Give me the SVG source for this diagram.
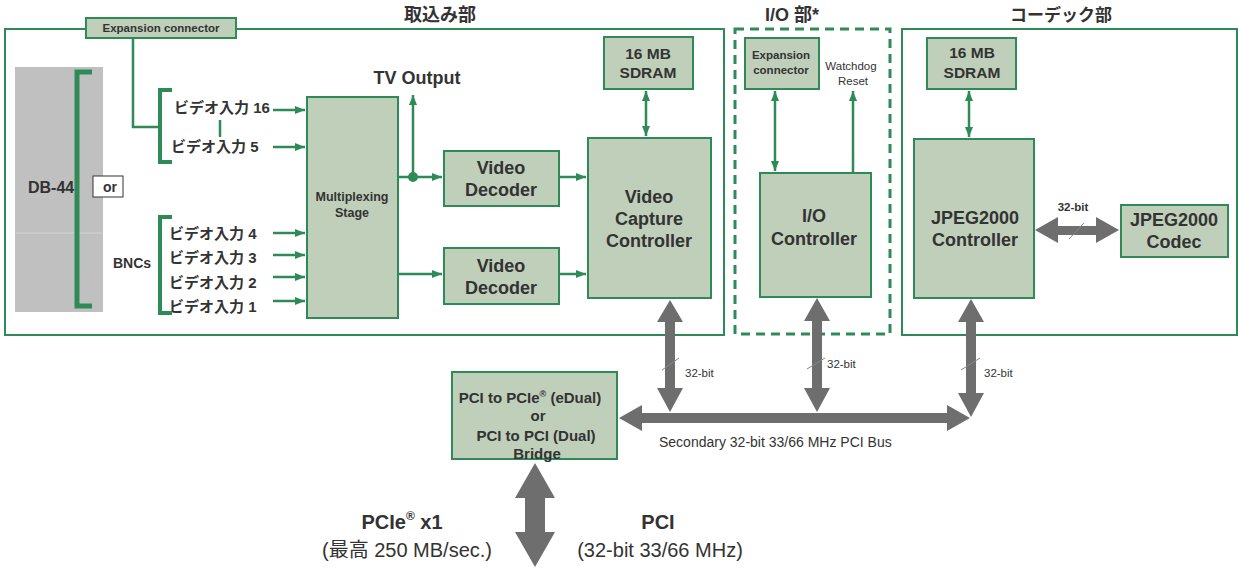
<svg xmlns="http://www.w3.org/2000/svg" width="1238" height="567" viewBox="0 0 1238 567">
<defs>
<style>
text{font-family:"Liberation Sans","Noto Sans CJK JP",sans-serif;fill:#333;}
.b{font-weight:bold;}
.t18{font-size:18px;}
.mid{text-anchor:middle;}
.box{fill:#bfcfb9;stroke:#2e8b57;stroke-width:2;}
.sec{fill:#fff;stroke:#2e8b57;stroke-width:2;}
.g{stroke:#2e8b57;stroke-width:2.5;fill:none;}
.gray{fill:#6e6e6e;}
.sl{stroke:#888;stroke-width:1;}
.br{font-size:15px;font-weight:bold;text-anchor:middle;}
</style>
<marker id="ah" viewBox="0 0 10 8" refX="10" refY="4" markerWidth="10" markerHeight="8" markerUnits="userSpaceOnUse" orient="auto-start-reverse">
<path d="M0,0 L10,4 L0,8 Z" fill="#2e8b57"/>
</marker>
</defs>
<rect width="1238" height="567" fill="#fff"/>

<!-- sections -->
<g id="sec-capture">
<rect class="sec" x="5" y="29" width="719" height="306"/>
<text class="b mid t18" x="440" y="21">取込み部</text>
</g>
<g id="sec-io">
<rect x="735" y="29" width="155" height="305" fill="#fff" stroke="#2e8b57" stroke-width="3" stroke-dasharray="9,6"/>
<text class="b mid t18" x="792" y="21">I/O 部*</text>
</g>
<g id="sec-codec">
<rect class="sec" x="902" y="29" width="335" height="306"/>
<text class="b mid" font-size="17" x="1061" y="21">コーデック部</text>
</g>

<!-- DB-44 connector -->
<g id="db44">
<rect x="15" y="67" width="88" height="245" fill="#c0c0c0"/>
<line x1="16" y1="233" x2="102" y2="233" stroke="#d4d4d4" stroke-width="1"/>
<path d="M92,72 H77 V306 H92" fill="none" stroke="#2e8b57" stroke-width="5"/>
<text class="b" font-size="16" x="28" y="193">DB-44</text>
<rect x="93" y="176" width="30" height="21" fill="#fff" stroke="#333" stroke-width="1"/>
<text class="b" font-size="14" x="103" y="192">or</text>
</g>

<g id="exp-top">
<rect class="box" x="86" y="18" width="150" height="20"/>
<text class="b mid" font-size="11.5" x="161" y="32">Expansion connector</text>
</g>

<g id="inputs">
<text class="b" font-size="15" x="174" y="113">ビデオ入力 16</text>
<text class="b" font-size="15" x="171" y="152">ビデオ入力 5</text>
<text class="b" font-size="15" x="169" y="239">ビデオ入力 4</text>
<text class="b" font-size="15" x="169" y="263">ビデオ入力 3</text>
<text class="b" font-size="15" x="169" y="288">ビデオ入力 2</text>
<text class="b" font-size="15" x="169" y="312">ビデオ入力 1</text>
<text class="b" font-size="14" x="113" y="268">BNCs</text>
</g>

<g id="mux">
<rect class="box" x="307" y="97" width="91" height="221" stroke-width="2.5"/>
<text class="b mid" font-size="12.5" x="352" y="201">Multiplexing</text>
<text class="b mid" font-size="12.5" x="352" y="217">Stage</text>
</g>
<g id="tvout"><text class="b mid t18" x="417" y="84">TV Output</text></g>

<g id="dec1">
<rect class="box" x="444" y="151" width="115" height="55"/>
<text class="b mid t18" x="501" y="174">Video</text>
<text class="b mid t18" x="501" y="196">Decoder</text>
</g>
<g id="dec2">
<rect class="box" x="444" y="248" width="115" height="56"/>
<text class="b mid t18" x="501" y="272">Video</text>
<text class="b mid t18" x="501" y="294">Decoder</text>
</g>
<g id="vcc">
<rect class="box" x="588" y="138" width="123" height="160"/>
<text class="b mid t18" x="649" y="203">Video</text>
<text class="b mid t18" x="649" y="225">Capture</text>
<text class="b mid t18" x="649" y="247">Controller</text>
</g>
<g id="sdram1">
<rect class="box" x="604" y="37" width="89" height="52"/>
<text class="b mid" font-size="15.5" x="648" y="59">16 MB</text>
<text class="b mid" font-size="15.5" x="648" y="78">SDRAM</text>
</g>

<g id="exp-io">
<rect class="box" x="745" y="38" width="74" height="51"/>
<text class="b mid" font-size="11.5" x="781" y="59">Expansion</text>
<text class="b mid" font-size="11.5" x="781" y="74">connector</text>
</g>
<g id="watchdog">
<text class="mid" font-size="11.5" x="851" y="70">Watchdog</text>
<text class="mid" font-size="11.5" x="853" y="85">Reset</text>
</g>
<g id="ioc">
<rect class="box" x="760" y="173" width="111" height="124"/>
<text class="b mid t18" x="814" y="222">I/O</text>
<text class="b mid t18" x="814" y="245">Controller</text>
</g>

<g id="sdram2">
<rect class="box" x="927" y="38" width="89" height="51"/>
<text class="b mid" font-size="15.5" x="972" y="58">16 MB</text>
<text class="b mid" font-size="15.5" x="972" y="78">SDRAM</text>
</g>
<g id="jpegc">
<rect class="box" x="914" y="139" width="120" height="159"/>
<text class="b mid t18" x="975" y="224">JPEG2000</text>
<text class="b mid t18" x="975" y="246">Controller</text>
</g>
<g id="codec">
<rect class="box" x="1121" y="205" width="107" height="52"/>
<text class="b mid t18" x="1174" y="226">JPEG2000</text>
<text class="b mid t18" x="1174" y="248">Codec</text>
</g>

<g id="bridge">
<rect class="box" x="452" y="372" width="165" height="87"/>
<text class="br" x="530" y="403">PCI to PCIe<tspan font-size="9" dy="-6">®</tspan><tspan dy="6"> (eDual)</tspan></text>
<text class="br" x="538" y="421">or</text>
<text class="br" x="536" y="441">PCI to PCI (Dual)</text>
<text class="br" x="537" y="459">Bridge</text>
</g>

<g id="host-labels">
<text class="b mid" font-size="20" x="402" y="529">PCIe<tspan font-size="12" dy="-9">®</tspan><tspan dy="9"> x1</tspan></text>
<text class="mid" font-size="20" x="407" y="557">(最高 250 MB/sec.)</text>
<text class="b mid" font-size="20" x="658" y="529">PCI</text>
<text class="mid" font-size="20" x="660" y="557">(32-bit 33/66 MHz)</text>
<text font-size="14" x="659" y="447">Secondary 32-bit 33/66 MHz PCI Bus</text>
</g>

<g id="connectors">
<path class="g" d="M133,38 V127 H160"/>
<path d="M172,90 H160 V162 H172" fill="none" stroke="#2e8b57" stroke-width="4"/>
<path d="M172,217 H160 V313 H172" fill="none" stroke="#2e8b57" stroke-width="4"/>
<line class="g" x1="220" y1="120" x2="220" y2="137" stroke-width="2"/>
<line class="g" x1="273" y1="110" x2="305" y2="110" marker-end="url(#ah)"/>
<line class="g" x1="273" y1="147" x2="305" y2="147" marker-end="url(#ah)"/>
<line class="g" x1="273" y1="233" x2="305" y2="233" marker-end="url(#ah)"/>
<line class="g" x1="273" y1="255" x2="305" y2="255" marker-end="url(#ah)"/>
<line class="g" x1="273" y1="277" x2="305" y2="277" marker-end="url(#ah)"/>
<line class="g" x1="273" y1="301" x2="305" y2="301" marker-end="url(#ah)"/>
<line class="g" x1="398" y1="177" x2="442" y2="177" marker-end="url(#ah)"/>
<line class="g" x1="413" y1="177" x2="413" y2="95" marker-end="url(#ah)"/>
<circle cx="413" cy="177" r="5" fill="#2e8b57"/>
<line class="g" x1="398" y1="274" x2="442" y2="274" marker-end="url(#ah)"/>
<line class="g" x1="560" y1="177" x2="586" y2="177" marker-end="url(#ah)"/>
<line class="g" x1="560" y1="274" x2="586" y2="274" marker-end="url(#ah)"/>
<line class="g" x1="646" y1="91" x2="646" y2="136" marker-start="url(#ah)" marker-end="url(#ah)"/>
<line class="g" x1="775" y1="91" x2="775" y2="171" marker-start="url(#ah)" marker-end="url(#ah)"/>
<line class="g" x1="853" y1="173" x2="853" y2="91" marker-end="url(#ah)"/>
<line class="g" x1="969" y1="91" x2="969" y2="137" marker-start="url(#ah)" marker-end="url(#ah)"/>
<polygon class="gray" points="670,300 683,322 675,322 675,388 683,388 670,412 657,388 665,388 665,322 657,322"/>
<polygon class="gray" points="817,298 830,321 822,321 822,388 830,388 817,412 804,388 812,388 812,321 804,321"/>
<polygon class="gray" points="971,299 984,322 976,322 976,393 984,393 971,417 958,393 966,393 966,322 958,322"/>
<polygon class="gray" points="619,418 642,405 642,413 947,413 947,405 970,418 947,431 947,423 642,423 642,431"/>
<polygon class="gray" points="535,463 555,498 545,498 545,532 555,532 535,567 515,532 525,532 525,498 515,498"/>
<polygon class="gray" points="1035,230 1058,217 1058,226 1096,226 1096,217 1119,230 1096,243 1096,235 1058,235 1058,243"/>
<line class="sl" x1="662" y1="370" x2="679" y2="358"/>
<line class="sl" x1="807" y1="369" x2="825" y2="358"/>
<line class="sl" x1="961" y1="370" x2="980" y2="358"/>
<line class="sl" x1="1069" y1="239" x2="1084" y2="223"/>
<text font-size="11.5" x="685" y="377">32-bit</text>
<text font-size="11.5" x="827" y="368">32-bit</text>
<text font-size="11.5" x="984" y="377">32-bit</text>
<text class="b mid" font-size="11.5" x="1073" y="211">32-bit</text>
</g>
</svg>
